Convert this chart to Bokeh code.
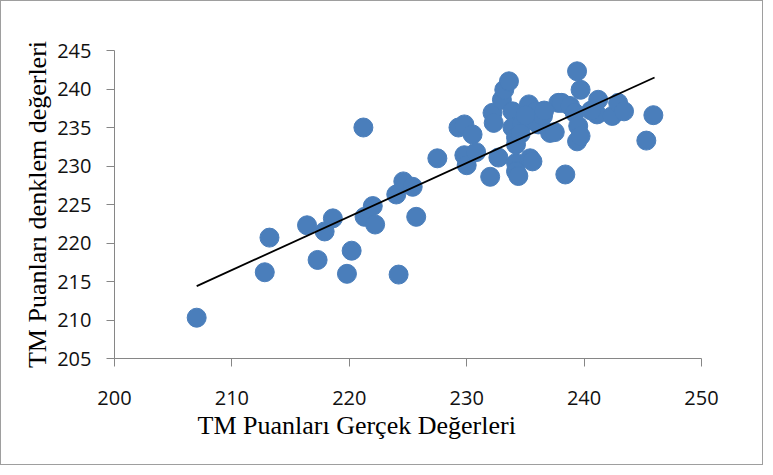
from bokeh.plotting import figure
from bokeh.models import Range1d, FixedTicker, Title
from bokeh.embed import file_html
from bokeh.resources import INLINE

actual = [207.0, 212.8, 213.2, 216.4, 217.3, 217.9, 218.6, 219.8, 220.2, 221.3,
          221.2, 222.0, 222.2, 224.0, 224.2, 224.6, 225.4, 225.7, 227.5, 229.3,
          229.8, 229.8, 230.0, 230.5, 230.8, 232.0, 232.2, 232.3, 232.7, 233.0,
          233.2, 233.6, 233.9, 233.9, 234.2, 234.2, 234.2, 234.2, 234.4, 234.7,
          235.3, 235.4, 235.6, 235.9, 236.1, 236.5, 237.1, 237.5, 237.8, 238.1,
          238.4, 238.8, 239.2, 239.4, 239.4, 239.5, 239.7, 239.7, 241.1, 241.2,
          242.4, 242.9, 243.4, 245.3, 245.9, 235.0, 236.6, 234.6, 240.6]
predicted = [210.3, 216.2, 220.7, 222.3, 217.8, 221.5, 223.2, 216.0, 219.0, 223.4,
             235.0, 224.8, 222.4, 226.3, 215.9, 228.0, 227.3, 223.4, 231.0, 235.0,
             235.4, 231.4, 230.1, 234.1, 231.8, 228.6, 236.9, 235.6, 231.1, 238.6,
             239.9, 241.0, 237.1, 235.0, 233.7, 232.8, 230.4, 229.3, 228.7, 235.4,
             238.0, 231.0, 230.6, 237.1, 235.4, 236.5, 234.3, 234.4, 238.2, 238.2,
             228.9, 237.8, 236.9, 242.3, 233.2, 235.2, 239.9, 233.9, 236.7, 238.6,
             236.5, 238.2, 237.1, 233.3, 236.6, 236.6, 237.2, 234.2, 237.2]

# Linear trendline end points
trend_x = [207.0, 246.0]
trend_y = [214.4, 241.5]

x_ticks = [200, 210, 220, 230, 240, 250]
y_ticks = [205, 210, 215, 220, 225, 230, 235, 240, 245]

x_title = "TM Puanları Gerçek Değerleri"
y_title = "TM Puanları denklem değerleri"

W, H = 763, 465
p = figure(width=W, height=H, output_backend="svg", toolbar_location=None,
           x_range=Range1d(200, 250), y_range=Range1d(205, 245),
           min_border_left=113, min_border_right=63,
           min_border_top=49, min_border_bottom=108)
p.styles = {"border": "1px solid #9e9e9e"}
p.outline_line_color = None
p.xgrid.visible = False
p.ygrid.visible = False

p.scatter(actual, predicted, size=19, fill_color="#4A7EBB", line_color="#4A7EBB")
p.line(trend_x, trend_y, line_color="black", line_width=1.8)

for ax in (p.xaxis[0], p.yaxis[0]):
    ax.axis_line_color = "#868686"
    ax.major_tick_line_color = "#868686"
    ax.major_tick_out = 8
    ax.major_tick_in = 0
    ax.minor_tick_line_color = None
    ax.major_label_text_font = "Open Sans"
    ax.major_label_text_font_size = "20px"
    ax.major_label_text_color = "#111111"

p.xaxis[0].ticker = FixedTicker(ticks=x_ticks)
p.yaxis[0].ticker = FixedTicker(ticks=y_ticks)
p.xaxis[0].major_label_standoff = 24
p.yaxis[0].major_label_standoff = 15

p.yaxis[0].axis_label = y_title
p.yaxis[0].axis_label_text_font = "Liberation Serif"
p.yaxis[0].axis_label_text_font_size = "26px"
p.yaxis[0].axis_label_text_font_style = "normal"
p.yaxis[0].axis_label_text_color = "black"
p.yaxis[0].axis_label_standoff = 2

p.add_layout(Title(text=x_title, align="left", offset=83, standoff=2,
                   text_font="Liberation Serif", text_font_size="26px",
                   text_font_style="normal", text_color="black"), "below")

open("out.html", "w").write(file_html(p, INLINE))
